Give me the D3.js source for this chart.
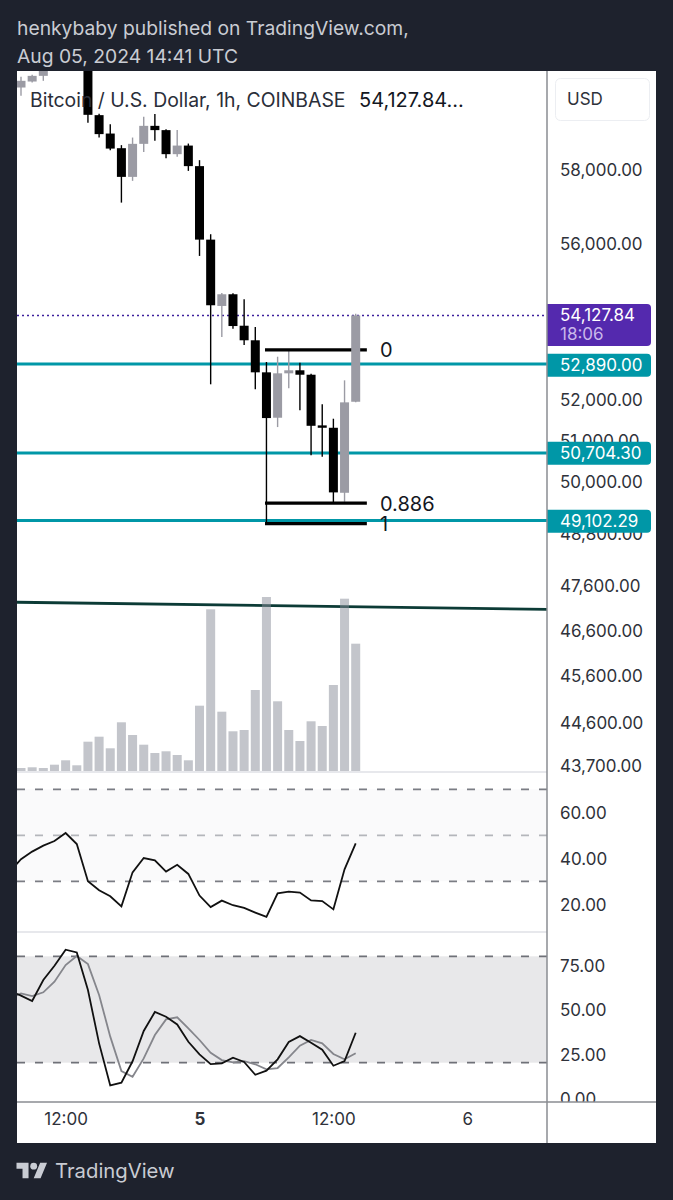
<!DOCTYPE html>
<html>
<head>
<meta charset="utf-8">
<script src="https://cdn.jsdelivr.net/npm/d3@7"></script>
<style>
  html, body { margin: 0; padding: 0; background: #1e222d; }
  svg { display: block; }
  text { font-family: "Inter", "Noto Sans", sans-serif; }
</style>
</head>
<body>
<svg id="chart" width="673" height="1200"></svg>
<script>
// one entry per hourly candle, first one is Aug 4 08:00 UTC
const candleOpen = [60314,60486,60649,60900,61050,61300,61500,59528,59010,58601,57808,58722,59226,59106,58435,58674,58104,56111,54371,54674,53863,53492,52684,51560,52659,52735,52624,51373,51315,49755,51953];
const candleHigh = [60620,60678,60823,61150,61500,61700,61600,59565,59274,58686,58898,59481,59557,59134,59106,58730,58269,56255,54708,54700,54544,53830,52943,53076,53220,52925,52650,51889,51536,52484,54170];
const candleLow = [60077,60457,60506,60800,60950,61100,59310,58898,58546,57106,57699,58498,58806,58325,58360,57973,55678,52385,53576,53786,53372,52261,49036,51332,52286,51741,50647,50613,49518,49542,51940];
const candleClose = [60506,60649,60794,61050,61300,61500,59537,58994,58590,57808,58722,59226,59106,58435,58674,58104,56111,54389,54674,53855,53492,52684,51552,52659,52735,52624,51363,51315,49764,51938,54127.84];
const volumes = [60,74,60,126,214,114,586,686,454,974,720,526,360,394,320,214,1306,3234,1186,794,820,1620,3480,1394,820,600,994,900,1720,3446,2546];

// these two start one hour earlier, the first point is cut by the pane edge
const rsiValues = [34.3,39.6,42.9,45.5,47.5,51.0,46.2,30.0,26.1,23.5,19.1,33.9,40.1,39.1,34.2,37.2,33.2,23.8,18.8,21.6,19.6,18.4,16.4,14.5,24.8,25.5,25.1,21.7,21.4,17.8,35.2,46.5];
const stochK = [60.6,57.8,54.8,66.6,74.7,83.7,82.2,61.0,30.9,7.2,8.7,20.8,37.9,48.6,45.9,41.6,31.8,24.7,19.2,19.6,22.8,20.4,13.2,15.5,21.9,31.7,35.0,31.3,27.3,18.3,20.9,36.9];
const stochD = [56.3,59.1,57.6,59.7,65.7,75.1,80.2,75.6,58.2,34.7,15.3,12.1,22.4,35.6,44.4,45.6,39.4,32.8,25.6,21.5,20.2,20.9,19.1,16.2,17.0,23.0,29.6,32.8,30.9,24.9,21.9,25.3];

const priceTicks = [58000,56000,52000,51000,50000,48800,47600,46600,45600,44600,43700];
const levelPrices = [52890,50704.30,49102.29];
const lastPrice = 54127.84;
const lastCountdown = "18:06";
const trendPrices = [47235,47075];
const trendHours = [-0.36,47.15];
const fibLevels = [0,0.886,1];
const fibLabels = ["0","0.886","1"];
const fibHigh = 53250;
const fibLow = 49032;
const fibHours = [21.87,31];

const rsiTicks = [60,40,20];
const rsiBands = [70,50,30];
const stochTicks = [75,50,25,0];
const stochBands = [80,20];
const timeTicks = [4,16,28,40];
const timeLabels = ["12:00","5","12:00","6"];

const headerLines = ["henkybaby published on TradingView.com,","Aug 05, 2024 14:41 UTC"];

const svg = d3.select("#chart");
const paneLeft = 17, paneRight = 547, outerRight = 656;
const mainTop = 71, mainBottom = 772, rsiBottom = 932, stochBottom = 1102, outerBottom = 1143;
const axisColor = "#2f323a";

const x = d3.scaleLinear().domain([0,30]).range([21,355.7]);
const y = d3.scaleLog().domain([58000,44600]).range([169.9,723.1]);
const yVol = d3.scaleLinear().domain([0,4000]).range([771,571]);
const yRsi = d3.scaleLinear().domain([50,70]).range([835.3,789.3]);
const yStoch = d3.scaleLinear().domain([20,80]).range([1062.7,956.3]);

/* Clip regions */
const defs = svg.append("defs");
const addClip = (id,x0,y0,w,h) => defs.append("clipPath").attr("id",id).append("rect")
    .attr("x",x0).attr("y",y0).attr("width",w).attr("height",h);
addClip("clipMain",paneLeft,mainTop,paneRight-paneLeft,mainBottom-mainTop);
addClip("clipRsi",paneLeft,mainBottom,paneRight-paneLeft,rsiBottom-mainBottom);
addClip("clipStoch",paneLeft,rsiBottom,paneRight-paneLeft,stochBottom-rsiBottom);
addClip("clipStochAxis",paneRight,rsiBottom,outerRight-paneRight,stochBottom-rsiBottom);

/* Header */
svg.append("g").selectAll("text").data(headerLines).join("text")
    .attr("x",17)
    .attr("y",(d,i) => 35 + i*28)
    .attr("fill","#c9ccd3")
    .attr("font-size",19.3)
    .text(d => d);

/* White chart card */
svg.append("rect")
    .attr("x",paneLeft).attr("y",mainTop)
    .attr("width",outerRight-paneLeft).attr("height",outerBottom-mainTop)
    .attr("fill","#ffffff");

/* Main pane */
const main = svg.append("g").attr("clip-path","url(#clipMain)");

main.append("line")
    .attr("x1",paneLeft).attr("x2",paneRight)
    .attr("y1",y(lastPrice)).attr("y2",y(lastPrice))
    .attr("stroke","#3d1f9c")
    .attr("stroke-width",1.5)
    .attr("stroke-dasharray","2,3");

main.selectAll(".level").data(levelPrices).join("line")
    .attr("class","level")
    .attr("x1",paneLeft).attr("x2",paneRight)
    .attr("y1",d => y(d)).attr("y2",d => y(d))
    .attr("stroke","#0097a7")
    .attr("stroke-width",3);

main.append("line")
    .attr("x1",x(trendHours[0])).attr("x2",x(trendHours[1]))
    .attr("y1",y(trendPrices[0])).attr("y2",y(trendPrices[1]))
    .attr("stroke","#0c3b36")
    .attr("stroke-width",2.8);

// bars are see-through, the trend line shows under them
main.selectAll(".vol").data(volumes).join("rect")
    .attr("class","vol")
    .attr("x",(d,i) => x(i)-4.5)
    .attr("y",d => yVol(d))
    .attr("width",9)
    .attr("height",d => yVol(0)-yVol(d))
    .attr("fill","#878b97")
    .attr("fill-opacity",0.5);

const candles = main.selectAll(".candle").data(candleOpen).join("g")
    .attr("class","candle")
    .attr("fill",(d,i) => candleClose[i] >= d ? "#9b9ba4" : "#000000")
    .attr("stroke",(d,i) => candleClose[i] >= d ? "#9b9ba4" : "#000000");

candles.append("line")
    .attr("x1",(d,i) => x(i)).attr("x2",(d,i) => x(i))
    .attr("y1",(d,i) => y(candleHigh[i]))
    .attr("y2",(d,i) => y(candleLow[i]))
    .attr("stroke-width",1.4);

candles.append("rect")
    .attr("x",(d,i) => x(i)-4.5)
    .attr("y",(d,i) => y(Math.max(d,candleClose[i])))
    .attr("width",9)
    .attr("height",(d,i) => Math.max(1,y(Math.min(d,candleClose[i])) - y(Math.max(d,candleClose[i]))))
    .attr("stroke","none");

// fib lines are drawn before the last candle in the original, redraw it on top
const fibPrice = lev => fibHigh - lev*(fibHigh-fibLow);
main.selectAll(".fib").data(fibLevels).join("line")
    .attr("class","fib")
    .attr("x1",x(fibHours[0])).attr("x2",x(fibHours[1]))
    .attr("y1",d => y(fibPrice(d))).attr("y2",d => y(fibPrice(d)))
    .attr("stroke","#000000")
    .attr("stroke-width",3.2);
candles.filter((d,i) => i === candleOpen.length-1).raise();

main.selectAll(".fibLabel").data(fibLevels).join("text")
    .attr("class","fibLabel")
    .attr("x",380)
    .attr("y",d => y(fibPrice(d)))
    .attr("dy","0.38em")
    .attr("font-size",20)
    .attr("fill","#131722")
    .text((d,i) => fibLabels[i]);

svg.append("text")
    .attr("x",30).attr("y",107)
    .attr("font-size",19.4)
    .attr("fill","#2a2e39")
    .text("Bitcoin / U.S. Dollar, 1h, COINBASE");
svg.append("text")
    .attr("x",359).attr("y",107)
    .attr("font-size",20)
    .attr("fill","#131722")
    .text("54,127.84...");

/* RSI pane */
const rsiPane = svg.append("g").attr("clip-path","url(#clipRsi)");
rsiPane.append("rect")
    .attr("x",paneLeft).attr("width",paneRight-paneLeft)
    .attr("y",yRsi(rsiBands[0]))
    .attr("height",yRsi(rsiBands[2])-yRsi(rsiBands[0]))
    .attr("fill","#fafafb");
rsiPane.selectAll(".band").data(rsiBands).join("line")
    .attr("class","band")
    .attr("x1",paneLeft).attr("x2",paneRight)
    .attr("y1",d => yRsi(d)).attr("y2",d => yRsi(d))
    .attr("stroke",(d,i) => i === 1 ? "#b4b6bb" : "#7b7d84")
    .attr("stroke-width",1.7)
    .attr("stroke-dasharray","8,10");
const lineFrom = (scale) => d3.line().x((d,i) => x(i-1)).y(d => scale(d));
rsiPane.append("path")
    .attr("d",lineFrom(yRsi)(rsiValues))
    .attr("fill","none")
    .attr("stroke","#111111")
    .attr("stroke-width",1.8);

/* Stoch pane */
const stochPane = svg.append("g").attr("clip-path","url(#clipStoch)");
stochPane.append("rect")
    .attr("x",paneLeft).attr("width",paneRight-paneLeft)
    .attr("y",yStoch(stochBands[0]))
    .attr("height",yStoch(stochBands[1])-yStoch(stochBands[0]))
    .attr("fill","#e8e8ea");
stochPane.selectAll(".band").data(stochBands).join("line")
    .attr("class","band")
    .attr("x1",paneLeft).attr("x2",paneRight)
    .attr("y1",d => yStoch(d)).attr("y2",d => yStoch(d))
    .attr("stroke","#6f7178")
    .attr("stroke-width",1.7)
    .attr("stroke-dasharray","8,10");
stochPane.append("path")
    .attr("d",lineFrom(yStoch)(stochD))
    .attr("fill","none")
    .attr("stroke","#85868c")
    .attr("stroke-width",1.8);
stochPane.append("path")
    .attr("d",lineFrom(yStoch)(stochK))
    .attr("fill","none")
    .attr("stroke","#111111")
    .attr("stroke-width",1.8);

/* Price side axes */
const styleAxis = (g,dy) => {
  g.select(".domain").remove();
  g.selectAll("line").remove();
  g.selectAll("text")
      .attr("font-size",17)
      .attr("dy",dy)
      .attr("fill",axisColor)
      .attr("font-family",'"Inter", sans-serif');
};
const fmt = d3.format(",.2f");
svg.append("g")
    .attr("transform",`translate(${paneRight},0)`)
    .call(d3.axisRight(y).tickValues(priceTicks).tickFormat(fmt).tickSize(0).tickPadding(13))
    .call(styleAxis,"0.32em");
svg.append("g")
    .attr("transform",`translate(${paneRight},0)`)
    .call(d3.axisRight(yRsi).tickValues(rsiTicks).tickFormat(fmt).tickSize(0).tickPadding(13))
    .call(styleAxis,"0.38em");
svg.append("g")
    .attr("clip-path","url(#clipStochAxis)")
  .append("g")
    .attr("transform",`translate(${paneRight},0)`)
    .call(d3.axisRight(yStoch).tickValues(stochTicks).tickFormat(fmt).tickSize(0).tickPadding(13))
    .call(styleAxis,"0.38em");

/* Price labels */
const priceTag = (top,height,color) => svg.append("path")
    .attr("d",`M${paneRight},${top}H647a4,4 0 0 1 4,4V${top+height-4}a4,4 0 0 1 -4,4H${paneRight}Z`)
    .attr("fill",color);
priceTag(304,42,"#5429ae");
svg.append("text").attr("x",560).attr("y",320.5).attr("font-size",17).attr("fill","#ffffff").text(fmt(lastPrice));
svg.append("text").attr("x",560).attr("y",340).attr("font-size",17).attr("fill","#c9b8ea").text(lastCountdown);
levelPrices.forEach(p => {
  const mid = Math.round(y(p)+0.5);
  priceTag(mid-11.2,23,"#0097a7");
  svg.append("text")
      .attr("x",560).attr("y",mid+6)
      .attr("font-size",17)
      .attr("fill","#ffffff")
      .text(fmt(p));
});

/* USD button */
svg.append("rect")
    .attr("x",555.5).attr("y",78.5).attr("width",94).attr("height",42).attr("rx",5)
    .attr("fill","#ffffff").attr("stroke","#eceef2");
svg.append("text").attr("x",567).attr("y",105).attr("font-size",17).attr("fill",axisColor).text("USD");

/* Separators */
svg.append("line").attr("x1",paneLeft).attr("x2",paneRight).attr("y1",mainBottom).attr("y2",mainBottom).attr("stroke","#dfe1e6").attr("stroke-width",1.5);
svg.append("line").attr("x1",paneLeft).attr("x2",paneRight).attr("y1",rsiBottom).attr("y2",rsiBottom).attr("stroke","#dfe1e6").attr("stroke-width",1.5);
svg.append("line").attr("x1",paneLeft).attr("x2",outerRight).attr("y1",stochBottom).attr("y2",stochBottom).attr("stroke","#8a8c92").attr("stroke-width",1.5);
svg.append("line").attr("x1",paneRight).attr("x2",paneRight).attr("y1",mainTop).attr("y2",outerBottom).attr("stroke","#8a8c92").attr("stroke-width",1.5);

/* Time axis */
svg.append("g")
    .attr("transform",`translate(0,${stochBottom})`)
    .call(d3.axisBottom(x).tickValues(timeTicks).tickFormat((d,i) => timeLabels[i]).tickSize(0).tickPadding(11))
    .call(g => {
      g.select(".domain").remove();
      g.selectAll("text")
          .attr("font-size",17)
          .attr("font-family",'"Inter", sans-serif')
          .attr("fill",axisColor)
          .attr("font-weight",(d,i) => i === 1 ? 700 : 400);
    });

/* Logo */
const logo = svg.append("g")
    .attr("transform","translate(16.5,1159.3) scale(0.86)")
    .attr("fill","#c9ccd3");
logo.append("path").attr("d","M14 22H7V11H0V4h14v18zM28 22h-8l7.5-18h8L28 22z");
logo.append("circle").attr("cx",20).attr("cy",8).attr("r",4);
svg.append("text")
    .attr("x",55).attr("y",1178)
    .attr("font-size",20.3)
    .attr("fill","#c9ccd3")
    .text("TradingView");
</script>
</body>
</html>
